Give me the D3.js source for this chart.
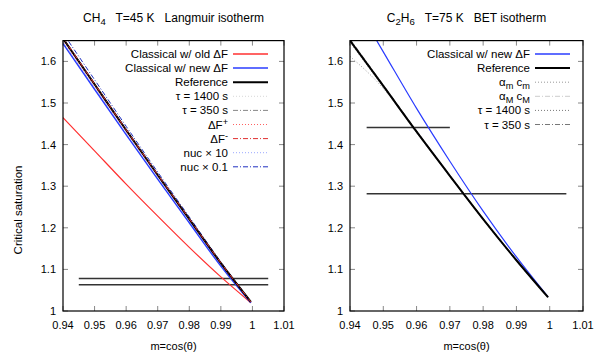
<!DOCTYPE html>
<html>
<head>
<meta charset="utf-8">
<script src="https://cdn.jsdelivr.net/npm/d3@7"></script>
<style>
  body { margin: 0; background: #fff; }
  svg { font-family: "Liberation Sans", Arial, sans-serif; }
</style>
</head>
<body>
<svg id="chart" width="595" height="354"></svg>
<script>
// shared abscissa for all curves
const mValues = [0.94, 0.95, 0.96, 0.97, 0.98, 0.99, 0.9995];
const xTicks = [0.94, 0.95, 0.96, 0.97, 0.98, 0.99, 1.0, 1.01];
const yTicks = [1, 1.1, 1.2, 1.3, 1.4, 1.5, 1.6];

// CH4, Langmuir
const ch4OldDF = [1.465, 1.385, 1.305, 1.228, 1.153, 1.082, 1.02];
const ch4NewDF = [1.643, 1.533, 1.424, 1.317, 1.212, 1.108, 1.02];
const ch4Reference = [1.655, 1.545, 1.435, 1.327, 1.221, 1.115, 1.022];
const ch4Tau1400 = [1.652, 1.542, 1.433, 1.325, 1.22, 1.114, 1.022];
const ch4Tau350 = [1.658, 1.547, 1.437, 1.328, 1.222, 1.116, 1.022];
const ch4DFPlus = [1.65, 1.54, 1.431, 1.324, 1.219, 1.113, 1.021];
const ch4DFMinus = [1.657, 1.546, 1.436, 1.328, 1.222, 1.116, 1.022];
const ch4Nuc10 = [1.646, 1.537, 1.428, 1.321, 1.216, 1.111, 1.021];
const ch4Nuc01 = [1.668, 1.556, 1.444, 1.334, 1.226, 1.118, 1.023];
const ch4Levels = [1.078, 1.063];
const ch4LevelSpans = [[0.945, 1.005], [0.945, 1.005]];

// C2H6, BET
const c2h6NewDF = [1.759, 1.623, 1.487, 1.36, 1.24, 1.13, 1.034];
const c2h6Reference = [1.65, 1.541, 1.431, 1.325, 1.221, 1.122, 1.033];
const c2h6AlphaMin = [1.612, 1.535, 1.428, 1.323, 1.22, 1.121, 1.033];
const c2h6AlphaMax = [1.655, 1.544, 1.434, 1.327, 1.223, 1.123, 1.034];
const c2h6Tau1400 = [1.646, 1.538, 1.429, 1.323, 1.219, 1.12, 1.032];
const c2h6Tau350 = [1.653, 1.543, 1.433, 1.326, 1.222, 1.123, 1.034];
const c2h6Levels = [1.441, 1.282];
const c2h6LevelSpans = [[0.945, 0.97], [0.945, 1.005]];

const svg = d3.select('#chart');

const panels = [
  {
    id: 'ch4', left: 63, right: 284, top: 40.6, bottom: 311,
    title: [['CH', ''], ['4', 'sub'], ['   T=45 K   Langmuir isotherm', '']],
    levels: ch4Levels, spans: ch4LevelSpans,
    series: [
      { name: [['Classical w/ old \u0394F', '']], values: ch4OldDF, color: '#ff3030', width: 1.2 },
      { name: [['Classical w/ new \u0394F', '']], values: ch4NewDF, color: '#2a3cff', width: 1.5 },
      { name: [['Reference', '']], values: ch4Reference, color: '#000', width: 2 },
      { name: [['\u03c4 = 1400 s', '']], values: ch4Tau1400, color: '#d8d8d8', width: 1, dash: '1,2' },
      { name: [['\u03c4 = 350 s', '']], values: ch4Tau350, color: '#888', width: 1, dash: '5,2,1,2' },
      { name: [['\u0394F', ''], ['+', 'sup']], values: ch4DFPlus, color: '#ff6060', width: 1, dash: '1,2' },
      { name: [['\u0394F', ''], ['-', 'sup']], values: ch4DFMinus, color: '#e03030', width: 1, dash: '5,2,1,2' },
      { name: [['nuc \u00d7 10', '']], values: ch4Nuc10, color: '#9aa8ff', width: 1, dash: '1,2' },
      { name: [['nuc \u00d7 0.1', '']], values: ch4Nuc01, color: '#2030c0', width: 1, dash: '5,2,1,2' }
    ],
    // draw order: thin overlays first, reference on top
    order: [0, 1, 3, 4, 5, 7, 8, 2, 6],
    legendRight: 228
  },
  {
    id: 'c2h6', left: 350, right: 583, top: 40.6, bottom: 311,
    title: [['C', ''], ['2', 'sub'], ['H', ''], ['6', 'sub'], ['   T=75 K   BET isotherm', '']],
    levels: c2h6Levels, spans: c2h6LevelSpans,
    series: [
      { name: [['Classical w/ new \u0394F', '']], values: c2h6NewDF, color: '#2a3cff', width: 1.2 },
      { name: [['Reference', '']], values: c2h6Reference, color: '#000', width: 2 },
      { name: [['\u03b1', ''], ['m', 'sub'], [' c', ''], ['m', 'sub']], values: c2h6AlphaMin, color: '#999', width: 1, dash: '1,2' },
      { name: [['\u03b1', ''], ['M', 'sub'], [' c', ''], ['M', 'sub']], values: c2h6AlphaMax, color: '#ccc', width: 1, dash: '5,2,1,2' },
      { name: [['\u03c4 = 1400 s', '']], values: c2h6Tau1400, color: '#777', width: 1, dash: '1,2' },
      { name: [['\u03c4 = 350 s', '']], values: c2h6Tau350, color: '#777', width: 1, dash: '5,2,1,2' }
    ],
    order: [0, 2, 3, 4, 5, 1],
    legendRight: 530
  }
];

function richText(sel, parts) {
  parts.forEach(([txt, kind]) => {
    const t = sel.append('tspan').text(txt);
    if (kind === 'sub') t.attr('font-size', '0.8em').attr('baseline-shift', '-30%');
    if (kind === 'sup') t.attr('font-size', '0.8em').attr('baseline-shift', '40%');
  });
}

panels.forEach(p => {
  const x = d3.scaleLinear().domain([0.94, 1.01]).range([p.left, p.right]);
  const y = d3.scaleLinear().domain([1, 1.65]).range([p.bottom, p.top]);
  const g = svg.append('g');

  g.append('clipPath').attr('id', 'clip-' + p.id)
    .append('rect')
    .attr('x', p.left).attr('y', p.top)
    .attr('width', p.right - p.left).attr('height', p.bottom - p.top);

  // inward ticks on all four sides, gnuplot style
  const tick = 5;
  const frame = g.append('g').attr('stroke', '#000').attr('stroke-width', 1);
  xTicks.forEach(v => {
    frame.append('line').attr('x1', x(v)).attr('x2', x(v)).attr('y1', p.bottom).attr('y2', p.bottom - tick).attr('stroke', '#888');
    frame.append('line').attr('x1', x(v)).attr('x2', x(v)).attr('y1', p.top).attr('y2', p.top + tick).attr('stroke', '#888');
  });
  yTicks.forEach(v => {
    frame.append('line').attr('x1', p.left).attr('x2', p.left + tick).attr('y1', y(v)).attr('y2', y(v)).attr('stroke', '#888');
    frame.append('line').attr('x1', p.right).attr('x2', p.right - tick).attr('y1', y(v)).attr('y2', y(v)).attr('stroke', '#888');
  });

  g.selectAll('.xlab').data(xTicks).join('text')
    .attr('x', d => x(d)).attr('y', p.bottom + 18)
    .attr('text-anchor', 'middle').attr('font-size', 11)
    .text(d => d3.format('')(+d.toFixed(2)));
  g.selectAll('.ylab').data(yTicks).join('text')
    .attr('x', p.left - 7).attr('y', d => y(d) + 4)
    .attr('text-anchor', 'end').attr('font-size', 11)
    .text(d => d3.format('')(+d.toFixed(1)));

  const plot = g.append('g').attr('clip-path', `url(#clip-${p.id})`);

  p.levels.forEach((lv, i) => {
    plot.append('line')
      .attr('x1', x(p.spans[i][0])).attr('x2', x(p.spans[i][1]))
      .attr('y1', y(lv)).attr('y2', y(lv))
      .attr('stroke', '#333').attr('stroke-width', 1.5);
  });

  const line = d3.line().x((d, i) => x(mValues[i])).y(d => y(d)).curve(d3.curveMonotoneX);
  p.order.forEach(k => {
    const s = p.series[k];
    plot.append('path')
      .attr('d', line(s.values))
      .attr('fill', 'none')
      .attr('stroke', s.color)
      .attr('stroke-width', s.width)
      .attr('stroke-dasharray', s.dash || null);
  });

  g.append('rect')
    .attr('x', p.left).attr('y', p.top)
    .attr('width', p.right - p.left).attr('height', p.bottom - p.top)
    .attr('fill', 'none').attr('stroke', '#000').attr('stroke-width', 1.2);

  // legend
  p.series.forEach((s, i) => {
    const ly = 54 + i * 14.1;
    const t = g.append('text')
      .attr('x', p.legendRight).attr('y', ly + 4)
      .attr('text-anchor', 'end').attr('font-size', 11.5);
    richText(t, s.name);
    g.append('line')
      .attr('x1', p.legendRight + 5).attr('x2', p.legendRight + 40)
      .attr('y1', ly).attr('y2', ly)
      .attr('stroke', s.color).attr('stroke-width', s.dash ? 1 : Math.max(s.width, 1.5))
      .attr('stroke-dasharray', s.dash || null);
  });

  const title = g.append('text')
    .attr('x', (p.left + p.right) / 2).attr('y', 22)
    .attr('text-anchor', 'middle').attr('font-size', 12)
    .attr('xml:space', 'preserve').style('white-space', 'pre');
  richText(title, p.title);

  g.append('text')
    .attr('x', (p.left + p.right) / 2).attr('y', 350)
    .attr('text-anchor', 'middle').attr('font-size', 11)
    .text('m=cos(\u03b8)');
});

svg.append('text')
  .attr('transform', 'translate(22,210) rotate(-90)')
  .attr('text-anchor', 'middle').attr('font-size', 11.5)
  .text('Critical saturation');
</script>
</body>
</html>
